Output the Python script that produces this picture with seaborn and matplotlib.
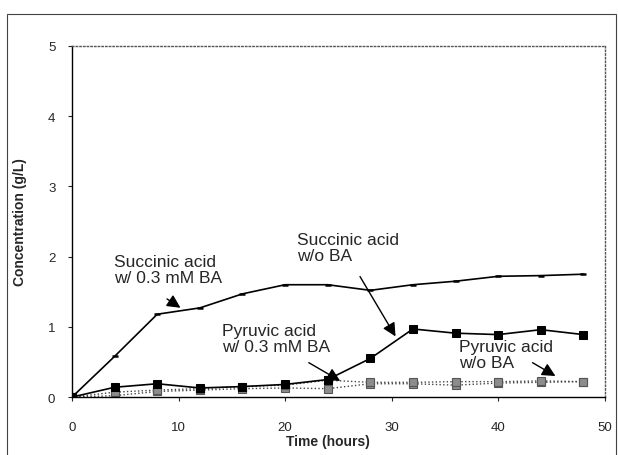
import pandas as pd
import seaborn as sns
import matplotlib.pyplot as plt
from matplotlib.patches import Rectangle

# time points (hours)
time = [0, 4, 8, 12, 16, 20, 24, 28, 32, 36, 40, 44, 48]
# concentrations (g/L)
succ_ba = [0, 0.58, 1.18, 1.27, 1.47, 1.60, 1.60, 1.52, 1.60, 1.65, 1.72, 1.73, 1.75]
succ_noba = [0, 0.14, 0.19, 0.13, 0.15, 0.18, 0.25, 0.55, 0.97, 0.91, 0.89, 0.96, 0.89]
pyr_ba = [0, 0.07, 0.10, 0.12, 0.15, 0.17, 0.24, 0.21, 0.21, 0.22, 0.22, 0.23, 0.22]
pyr_noba = [0, 0.02, 0.08, 0.10, 0.12, 0.13, 0.12, 0.19, 0.19, 0.17, 0.20, 0.21, 0.22]

sns.set_style("ticks")
plt.rcParams['font.family'] = ['Liberation Sans', 'DejaVu Sans']

fig = plt.figure(figsize=(6.18, 4.56), dpi=100)
ax = fig.add_axes([0.1165, 0.127, 0.862, 0.770])

# outer frame of the figure
fig.patches.append(Rectangle((0.012, -0.05), 0.985, 1.018, transform=fig.transFigure,
                             fill=False, lw=0.8, ec='#444444'))

df = pd.DataFrame({'time': time, 'succ_ba': succ_ba, 'succ_noba': succ_noba,
                   'pyr_ba': pyr_ba, 'pyr_noba': pyr_noba})

sns.lineplot(data=df, x='time', y='pyr_noba', ax=ax, color='#444444', lw=1.0, ls=':',
             marker='s', ms=5.5, mfc='#8c8c8c', mec='#555555', mew=0.8, zorder=2)
sns.lineplot(data=df, x='time', y='pyr_ba', ax=ax, color='#444444', lw=1.0, ls=':',
             marker='s', ms=5.5, mfc='#8c8c8c', mec='#555555', mew=0.8, zorder=2)
sns.lineplot(data=df, x='time', y='succ_noba', ax=ax, color='black', lw=1.2,
             marker='s', ms=5.5, mec='black', zorder=3)
sns.lineplot(data=df, x='time', y='succ_ba', ax=ax, color='black', lw=1.2,
             marker='_', ms=5, mew=1.8, mec='black', zorder=3)

ax.set_xlim(0, 50)
ax.set_ylim(0, 5)
ax.set_xticks(range(0, 51, 10))
ax.set_yticks(range(0, 6))
ax.tick_params(axis='x', direction='out', length=3, pad=14, labelsize=9.5)
ax.tick_params(axis='y', direction='out', length=3, pad=9, labelsize=9.5)
ax.set_xlabel('Time (hours)', fontsize=10, fontweight='bold')
ax.set_ylabel('Concentration (g/L)', fontsize=10, fontweight='bold')
ax.xaxis.set_label_coords(0.48, -0.105)
ax.yaxis.set_label_coords(-0.085, 0.5)

for s in ['top', 'right']:
    ax.spines[s].set_linestyle(':')
    ax.spines[s].set_color('#555555')
    ax.spines[s].set_linewidth(1.0)
for s in ['left', 'bottom']:
    ax.spines[s].set_color('black')
    ax.spines[s].set_linewidth(1.0)

arrow = dict(arrowstyle='-|>', color='black', lw=1.0, mutation_scale=20)
ax.text(3.9, 1.6, 'Succinic acid\nw/ 0.3 mM BA', fontsize=12.5, ha='left', va='bottom',
        linespacing=1.05)
ax.annotate('', xy=(10.4, 1.25), xytext=(8.7, 1.42), arrowprops=arrow)
ax.text(21.1, 1.91, 'Succinic acid\nw/o BA', fontsize=12.5, ha='left', va='bottom',
        linespacing=1.05)
ax.annotate('', xy=(30.5, 0.83), xytext=(26.9, 1.75), arrowprops=arrow)
ax.text(14.1, 0.62, 'Pyruvic acid\nw/ 0.3 mM BA', fontsize=12.5, ha='left', va='bottom',
        linespacing=1.05)
ax.annotate('', xy=(25.4, 0.21), xytext=(22.0, 0.51), arrowprops=arrow)
ax.text(36.3, 0.39, 'Pyruvic acid\nw/o BA', fontsize=12.5, ha='left', va='bottom',
        linespacing=1.05)
ax.annotate('', xy=(45.6, 0.28), xytext=(43.0, 0.51), arrowprops=arrow)

fig.savefig('out.png', dpi=100)
